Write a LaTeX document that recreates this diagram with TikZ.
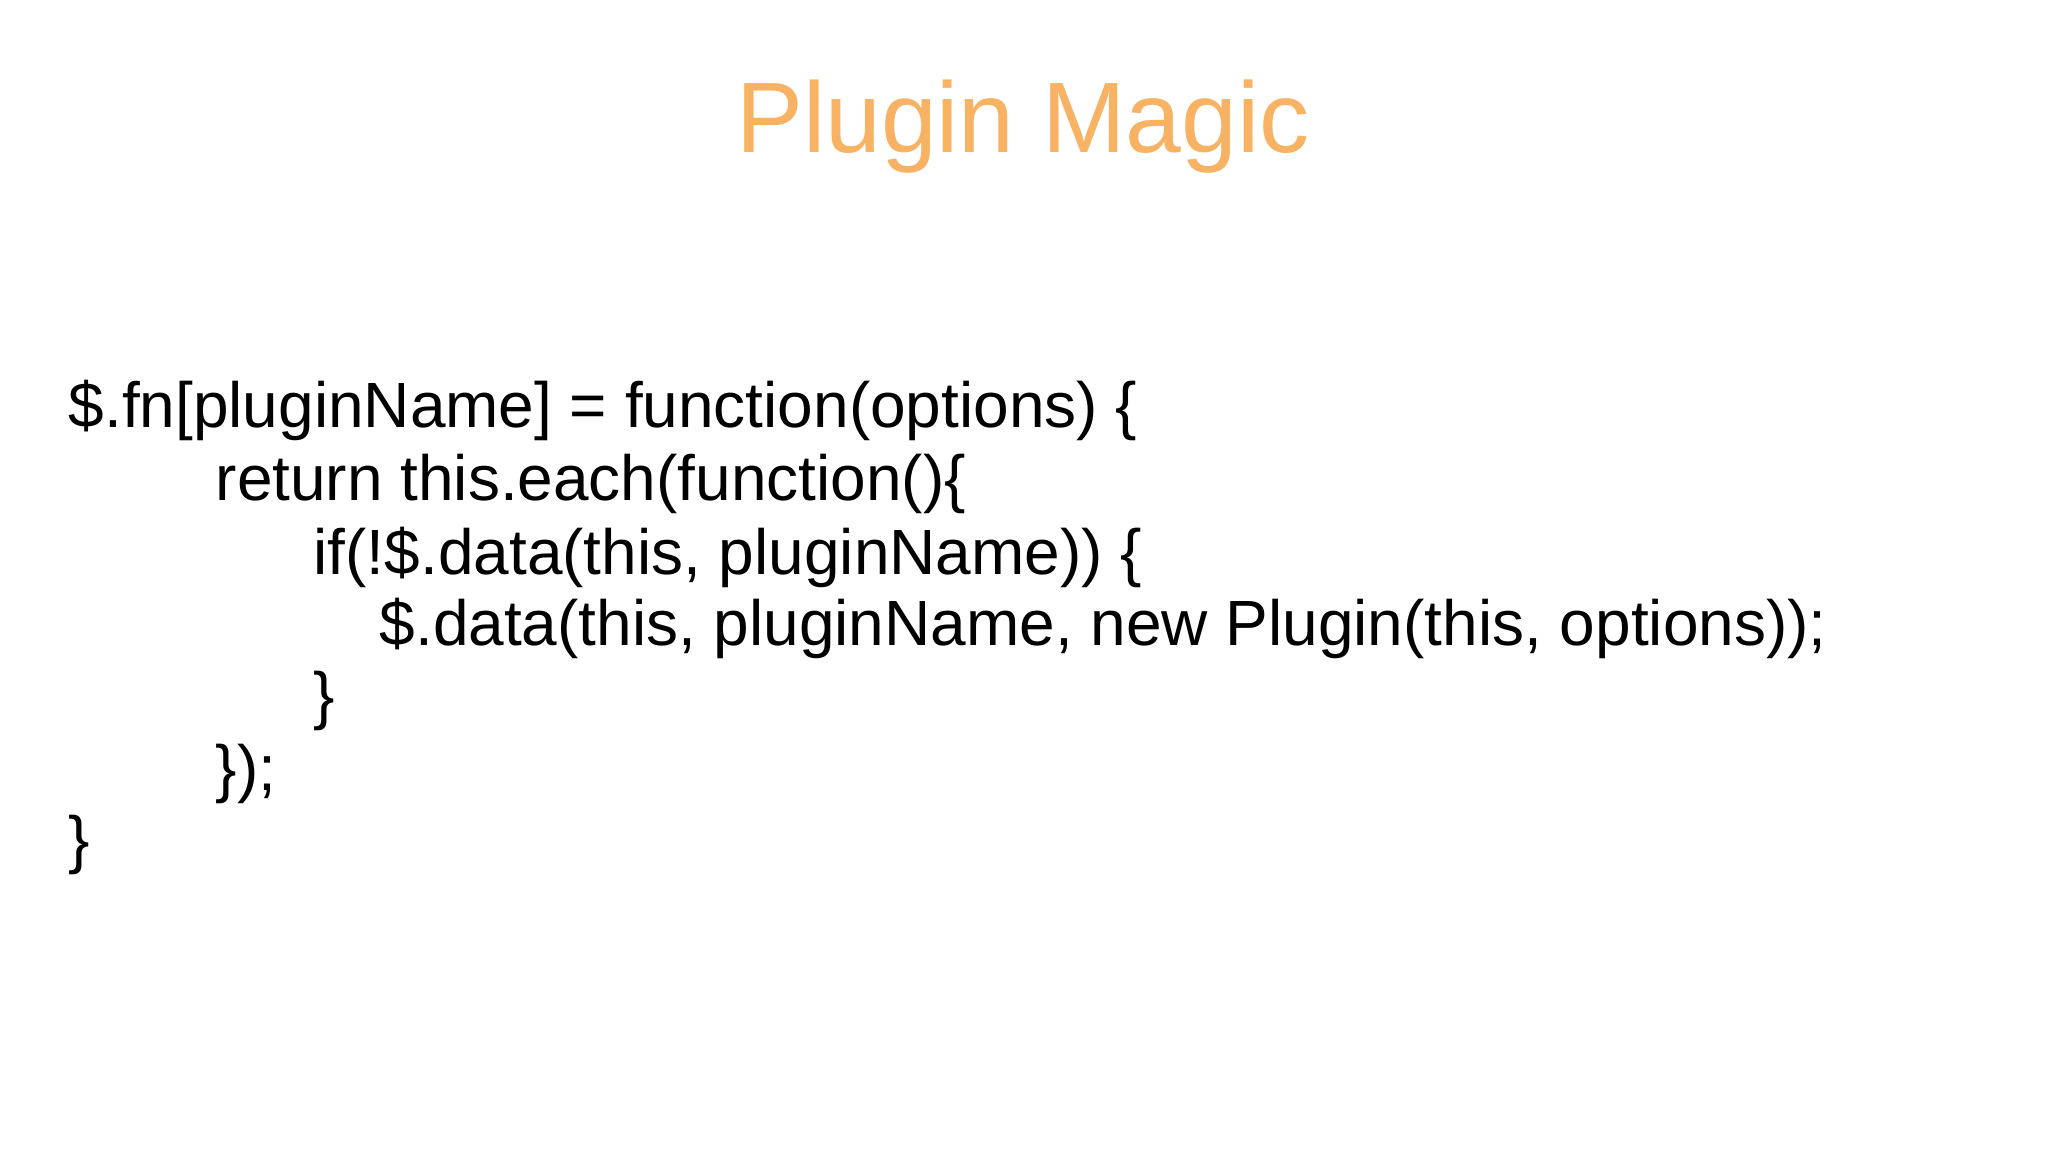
\documentclass[tikz,border=0pt]{standalone}
\usepackage{fontspec}
\setmainfont{Liberation Sans}
\usetikzlibrary{positioning}
\definecolor{titleorange}{RGB}{247,178,100}
\tikzset{codeline/.style={anchor=base west, inner sep=0pt, font=\fontsize{18.2}{20}\selectfont}}

\begin{document}
\begin{tikzpicture}
        % sfondo
        \useasboundingbox[fill=white] (0,0) rectangle (20.48,11.52);
        \node[titleorange, inner sep=0pt, font=\fontsize{28.5}{32}\selectfont] (title) at (10.23,10.25) {Plugin Magic};

        % codice
        \node[codeline] (l1) at (0.68,7.24) {\$.fn[pluginName] = function(options) \{};
        \node[codeline] (l2) at (2.15,6.51) {return this.each(function()\{};
        \node[codeline] (l3) at (3.13,5.77) {if(!\$.data(this, pluginName)) \{};
        \node[codeline] (l4) at (3.79,5.06) {\$.data(this, pluginName, new Plugin(this, options));};
        \node[codeline] (l5) at (3.13,4.34) {\}};
        \node[codeline] (l6) at (2.15,3.61) {\});};
        \node[codeline] (l7) at (0.68,2.90) {\}};
    \end{tikzpicture}
\end{document}
